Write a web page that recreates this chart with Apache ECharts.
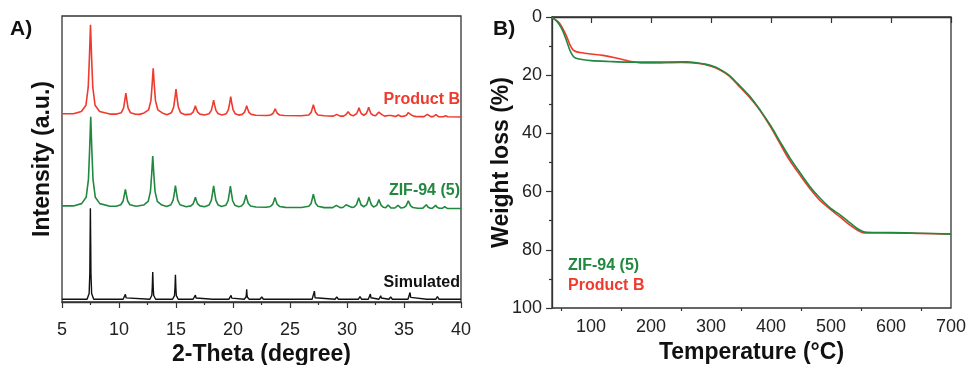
<!DOCTYPE html>
<html>
<head>
<meta charset="utf-8">
<script src="https://cdn.jsdelivr.net/npm/echarts@6/dist/echarts.min.js"></script>
<style>
html,body{margin:0;padding:0;background:#fff;}
#chart{width:968px;height:365px;}
</style>
</head>
<body>
<div id="chart"></div>
<script>
// ---- Panel A: XRD patterns (2-theta, intensity in stacked a.u.) ----
const xrdProductB = [
[5,65.8],[6,65.8],[6.7,66.6],[7.1,68.8],[7.3,75.1],[7.4,85.0],[7.5,96.9],[7.6,85.0],[7.7,75.1],[7.9,68.8],[8.3,66.6],[9.2,65.7],
[9.8,65.7],[10.2,66.2],[10.4,67.8],[10.52,70.8],[10.6,73.0],[10.68,70.8],[10.8,67.8],[11.0,66.2],[11.4,65.7],
[11.8,65.6],[12.2,66.1],[12.6,67.2],[12.8,70.4],[12.9,75.6],[13.0,81.7],[13.1,75.6],[13.2,70.4],[13.4,67.2],[13.8,66.1],[14.2,65.5],
[14.6,66.2],[14.8,68.2],[14.92,71.7],[15.0,74.4],[15.08,71.7],[15.2,68.2],[15.4,66.2],[15.8,65.5],
[16.3,65.7],[16.5,66.4],[16.62,67.6],[16.7,68.6],[16.78,67.6],[16.9,66.4],[17.1,65.7],[17.5,65.4],
[17.9,65.8],[18.1,67.0],[18.22,69.0],[18.3,70.6],[18.38,69.0],[18.5,67.0],[18.7,65.8],[19.05,65.4],
[19.4,65.8],[19.6,67.3],[19.72,69.8],[19.8,71.8],[19.88,69.8],[20.0,67.3],[20.2,65.8],[20.5,65.35],
[20.8,65.6],[21.0,66.3],[21.12,67.6],[21.2,68.6],[21.28,67.6],[21.4,66.3],[21.6,65.6],[22.0,65.3],
[23.0,65.2],[23.3,65.4],[23.5,65.9],[23.62,66.8],[23.7,67.5],[23.78,66.8],[23.9,65.9],[24.1,65.4],[24.5,65.2],
[26.0,65.1],[26.65,65.4],[26.85,66.3],[26.97,67.8],[27.05,69.0],[27.13,67.8],[27.25,66.3],[27.45,65.4],[28.0,65.1],
[28.8,65.0],[29.1,65.6],[29.4,65.0],
[29.7,65.0],[29.9,65.5],[30.02,66.0],[30.1,66.5],[30.18,66.0],[30.3,65.5],[30.55,65.1],
[30.65,65.2],[30.85,65.9],[30.97,67.0],[31.05,67.9],[31.13,67.0],[31.25,65.9],[31.47,65.3],
[31.7,65.9],[31.82,67.1],[31.9,68.1],[31.98,67.1],[32.1,65.9],[32.3,65.3],
[32.5,65.1],[32.67,65.5],[32.79,66.4],[32.87,67.0],[32.95,66.4],[33.07,65.5],[33.3,65.0],
[33.45,64.9],[33.62,65.2],[33.75,65.7],[33.88,65.2],[34.05,64.9],
[34.25,64.85],[34.5,65.4],[34.75,64.85],
[35.05,65.0],[35.24,65.4],[35.36,66.2],[35.44,66.8],[35.52,66.2],[35.64,65.4],[35.85,65.0],[36.2,64.8],
[36.75,64.8],[36.92,65.1],[37.05,65.6],[37.18,65.1],[37.35,64.8],
[37.55,64.8],[37.8,65.5],[38.05,64.75],
[38.45,64.75],[38.65,65.1],[38.85,64.75],[40,64.7]
];
const xrdZif94 = [
[5,33.6],[6,33.6],[6.72,34.4],[7.12,36.6],[7.32,42.9],[7.42,52.9],[7.52,64.8],[7.62,52.9],[7.72,42.9],[7.92,36.6],[8.32,34.4],[9.2,33.5],
[9.76,33.5],[10.16,34.0],[10.36,35.3],[10.48,37.7],[10.56,39.4],[10.64,37.7],[10.76,35.3],[10.96,34.0],[11.5,33.5],
[12.16,33.9],[12.56,35.2],[12.76,38.7],[12.86,44.3],[12.96,51.0],[13.06,44.3],[13.16,38.7],[13.36,35.2],[13.76,33.9],[14.2,33.4],
[14.55,34.0],[14.75,35.6],[14.87,38.5],[14.95,40.7],[15.03,38.5],[15.15,35.6],[15.35,34.0],[15.9,33.3],
[16.3,33.6],[16.5,34.3],[16.62,35.6],[16.7,36.6],[16.78,35.6],[16.9,34.3],[17.1,33.6],[17.5,33.3],
[17.9,33.9],[18.1,35.5],[18.22,38.4],[18.3,40.6],[18.38,38.4],[18.5,35.5],[18.7,33.9],[19.0,33.4],
[19.37,33.8],[19.57,35.4],[19.69,38.3],[19.77,40.5],[19.85,38.3],[19.97,35.4],[20.17,33.8],[20.5,33.3],
[20.74,33.55],[20.94,34.45],[21.06,36.1],[21.14,37.4],[21.22,36.1],[21.34,34.45],[21.54,33.55],[22.0,33.2],
[22.9,33.15],[23.28,33.4],[23.48,34.1],[23.6,35.5],[23.68,36.5],[23.76,35.5],[23.88,34.1],[24.08,33.4],[24.6,33.1],
[26.0,33.05],[26.65,33.45],[26.85,34.45],[26.97,36.35],[27.05,37.7],[27.13,36.35],[27.25,34.45],[27.45,33.45],[28.0,33.0],
[28.75,33.0],[28.92,33.25],[29.07,33.8],[29.22,33.25],[29.4,33.0],
[29.65,33.05],[29.82,33.45],[29.92,34.0],[30.0,34.5],[30.08,34.0],[30.2,33.45],[30.45,33.05],
[30.63,33.25],[30.83,34.0],[30.95,35.45],[31.03,36.5],[31.11,35.45],[31.23,34.0],[31.47,33.3],
[31.73,34.05],[31.85,35.55],[31.93,36.7],[32.01,35.55],[32.13,34.05],[32.33,33.2],
[32.6,33.8],[32.72,34.9],[32.8,35.8],[32.88,34.9],[33.0,33.8],[33.2,33.1],
[33.4,32.95],[33.5,33.3],[33.6,33.9],[33.7,33.3],[33.85,32.9],
[34.2,32.86],[34.35,33.2],[34.47,33.8],[34.6,33.2],[34.75,32.86],
[34.98,33.05],[35.18,33.6],[35.3,34.65],[35.38,35.4],[35.46,34.65],[35.58,33.6],[35.78,33.05],[36.2,32.8],
[36.65,32.8],[36.82,33.2],[36.96,34.0],[37.1,33.2],[37.3,32.8],
[37.5,32.8],[37.65,33.1],[37.78,33.8],[37.91,33.1],[38.1,32.78],
[38.35,32.76],[38.57,33.3],[38.8,32.75],[40,32.7]
];
const xrdSimulated = [
[5,0.95],[7.2,0.95],[7.38,3.0],[7.44,10.0],[7.46,20.0],[7.49,32.8],[7.52,20.0],[7.54,10.0],[7.6,3.0],[7.78,0.95],
[10.36,0.95],[10.5,1.45],[10.56,2.7],[10.62,1.45],[10.76,0.95],
[12.71,0.95],[12.88,2.35],[12.92,5.25],[12.96,10.5],[13.0,5.25],[13.04,2.35],[13.21,0.95],
[14.7,0.95],[14.87,2.25],[14.91,4.8],[14.95,9.5],[14.99,4.8],[15.03,2.25],[15.2,0.95],
[16.5,0.95],[16.64,1.4],[16.7,2.4],[16.76,1.4],[16.9,0.95],
[18.2,0.95],[18.35,1.4],[18.5,0.95],
[19.63,0.95],[19.77,1.35],[19.83,2.3],[19.89,1.35],[20.03,0.95],
[20.98,0.95],[21.13,1.65],[21.17,2.5],[21.2,4.4],[21.23,2.5],[21.27,1.65],[21.42,0.95],
[22.37,0.95],[22.52,1.75],[22.67,0.95],
[23.58,0.95],[23.72,1.3],[23.86,0.95],
[26.94,0.95],[27.08,1.5],[27.14,3.8],[27.2,1.5],[27.34,0.95],
[28.95,0.95],[29.1,1.75],[29.25,0.95],
[29.97,0.95],[30.1,1.4],[30.23,0.95],
[30.99,0.95],[31.14,1.9],[31.29,0.95],
[31.87,0.95],[32.0,1.5],[32.05,2.8],[32.1,1.5],[32.23,0.95],
[32.8,0.95],[32.91,1.4],[32.96,2.2],[33.01,1.4],[33.12,0.95],
[33.68,0.95],[33.83,1.75],[33.98,0.95],
[34.5,0.95],[34.65,1.5],[34.8,0.95],
[35.35,0.95],[35.47,1.6],[35.53,3.3],[35.59,1.6],[35.71,0.95],
[37.0,0.95],[37.14,1.6],[37.28,0.95],
[37.78,0.95],[37.93,1.9],[38.08,0.95],
[39.33,0.95],[39.48,1.4],[39.63,0.95],[40,0.95]
];

// ---- Panel B: TGA curves ----
const tgaTempZif = [35,40,45,50,55,60,65,70,75,85,100,130,160,200,260,288,300,315,330,345,365,382,399,415,432,449,465,482,499,515,529,543,552,560,600,650,700];
const tgaLossZif = [0.3,0.9,2.0,3.6,5.8,8.6,11.5,13.4,14.2,14.6,15.0,15.3,15.5,15.5,15.4,16.1,16.7,18.0,20.0,23.0,27.3,32.0,37.2,42.8,48.6,53.7,58.3,62.3,65.7,68.0,70.3,72.6,73.6,74.0,74.1,74.3,74.6];
const tgaTempProdB = [35,40,45,50,55,60,65,70,75,85,100,120,140,160,180,200,250,280,300,315,330,345,365,380,400,415,430,450,465,480,500,515,530,545,553,560,600,650,700];
const tgaLossProdB = [0.3,0.8,1.6,2.9,4.8,7.0,9.6,11.3,11.9,12.3,12.7,13.2,14.0,15.0,15.7,15.8,15.6,16.0,16.9,18.2,20.2,23.4,27.8,31.6,38.0,43.5,48.9,54.8,59.0,62.7,66.3,68.7,71.3,73.4,74.1,74.2,74.2,74.4,74.6];
const tgaMajorTicks = [100,200,300,400,500,600,700];
const tgaMinorTicks = [50,150,250,350,450,550,650];

const RED = '#ef3a2d';
const GREEN = '#21883f';
const INK = '#222';
const FONT = "'Liberation Sans', Arial, Helvetica, sans-serif";

const zip = (a, b) => a.map((v, i) => [v, b[i]]);

const chart = echarts.init(document.getElementById('chart'), null, {renderer: 'canvas'});

const frame = {show: true, lineStyle: {color: '#333', width: 1.3}};
const tickLbl = {fontSize: 18, color: INK, fontFamily: FONT};
const nameStyle = {fontSize: 23, fontWeight: 'bold', color: '#111', fontFamily: FONT};

const option = {
  animation: false,
  backgroundColor: '#fff',
  grid: [
    {left: 62, top: 16, width: 399, height: 286, show: true, borderColor: '#333', borderWidth: 1.3, backgroundColor: 'transparent', containLabel: false, outerBoundsMode: 'none'},
    {left: 552, top: 17, width: 399, height: 291, show: true, borderColor: '#333', borderWidth: 1.3, backgroundColor: 'transparent', containLabel: false, outerBoundsMode: 'none'}
  ],
  xAxis: [
    {
      gridIndex: 0, type: 'value', min: 5, max: 40, interval: 5, offset: 7,
      axisLine: frame,
      axisTick: {show: true, inside: false, length: 6, lineStyle: {color: '#333', width: 1.2}},
      minorTick: {show: true, splitNumber: 2, length: 3, lineStyle: {color: '#333', width: 1.2}},
      axisLabel: Object.assign({margin: 12}, tickLbl),
      splitLine: {show: false},
      name: '2-Theta (degree)', nameLocation: 'middle', nameGap: 34, nameMoveOverlap: false, nameTextStyle: nameStyle
    },
    {
      gridIndex: 1, type: 'value', min: 35, max: 700,
      axisLine: frame,
      axisTick: {show: true, inside: false, length: 6, customValues: tgaMajorTicks, lineStyle: {color: '#333', width: 1.2}},
      axisLabel: Object.assign({margin: 10, customValues: tgaMajorTicks}, tickLbl),
      splitLine: {show: false},
      name: 'Temperature (°C)', nameLocation: 'middle', nameGap: 33, nameMoveOverlap: false, nameTextStyle: nameStyle
    },
    {
      gridIndex: 1, type: 'value', min: 35, max: 700, position: 'bottom',
      axisLine: {show: false},
      axisTick: {show: true, inside: false, length: 3, customValues: tgaMinorTicks, lineStyle: {color: '#333', width: 1.2}},
      axisLabel: {show: false},
      splitLine: {show: false}
    }
  ],
  yAxis: [
    {
      gridIndex: 0, type: 'value', min: 0, max: 100,
      axisLine: {show: false}, axisTick: {show: false}, axisLabel: {show: false}, splitLine: {show: false},
      name: 'Intensity (a.u.)', nameLocation: 'middle', nameGap: 8, nameMoveOverlap: false, nameTextStyle: nameStyle
    },
    {
      gridIndex: 1, type: 'value', min: 0, max: 100, interval: 20, inverse: true,
      axisLine: frame,
      axisTick: {show: true, inside: false, length: 6, lineStyle: {color: '#333', width: 1.2}},
      minorTick: {show: true, splitNumber: 2, length: 3, lineStyle: {color: '#333', width: 1.2}},
      axisLabel: Object.assign({margin: 10}, tickLbl),
      splitLine: {show: false},
      name: 'Weight loss (%)', nameLocation: 'middle', nameGap: 39, nameMoveOverlap: false, nameTextStyle: nameStyle
    }
  ],
  series: [
    {name: 'Product B', type: 'line', xAxisIndex: 0, yAxisIndex: 0, data: xrdProductB, showSymbol: false, symbol: 'none',
     lineStyle: {color: RED, width: 1.6}, z: 3},
    {name: 'ZIF-94 (5)', type: 'line', xAxisIndex: 0, yAxisIndex: 0, data: xrdZif94, showSymbol: false, symbol: 'none',
     lineStyle: {color: GREEN, width: 1.6}, z: 3},
    {name: 'Simulated', type: 'line', xAxisIndex: 0, yAxisIndex: 0, data: xrdSimulated, showSymbol: false, symbol: 'none',
     lineStyle: {color: '#111', width: 1.4}, z: 3},
    {name: 'Product B TGA', type: 'line', xAxisIndex: 1, yAxisIndex: 1, data: zip(tgaTempProdB, tgaLossProdB), showSymbol: false, symbol: 'none',
     smooth: 0.3, lineStyle: {color: RED, width: 1.6}, z: 3},
    {name: 'ZIF-94 (5) TGA', type: 'line', xAxisIndex: 1, yAxisIndex: 1, data: zip(tgaTempZif, tgaLossZif), showSymbol: false, symbol: 'none',
     smooth: 0.3, lineStyle: {color: GREEN, width: 1.6}, z: 4}
  ],
  graphic: [
    {type: 'text', z: 10, style: {x: 10, y: 29, text: 'A)', fill: '#111', font: 'bold 21px ' + FONT, textAlign: 'left', textVerticalAlign: 'middle', align: 'left', verticalAlign: 'middle'}},
    {type: 'text', z: 10, style: {x: 493, y: 29, text: 'B)', fill: '#111', font: 'bold 21px ' + FONT, textAlign: 'left', textVerticalAlign: 'middle', align: 'left', verticalAlign: 'middle'}},
    {type: 'text', z: 10, style: {x: 460, y: 100, text: 'Product B', fill: RED, font: 'bold 16px ' + FONT, textAlign: 'right', textVerticalAlign: 'middle', align: 'right', verticalAlign: 'middle'}},
    {type: 'text', z: 10, style: {x: 460, y: 191, text: 'ZIF-94 (5)', fill: GREEN, font: 'bold 16px ' + FONT, textAlign: 'right', textVerticalAlign: 'middle', align: 'right', verticalAlign: 'middle'}},
    {type: 'text', z: 10, style: {x: 460, y: 283, text: 'Simulated', fill: '#111', font: 'bold 16px ' + FONT, textAlign: 'right', textVerticalAlign: 'middle', align: 'right', verticalAlign: 'middle'}},
    {type: 'text', z: 10, style: {x: 568, y: 266, text: 'ZIF-94 (5)', fill: GREEN, font: 'bold 16px ' + FONT, textAlign: 'left', textVerticalAlign: 'middle', align: 'left', verticalAlign: 'middle'}},
    {type: 'text', z: 10, style: {x: 568, y: 286, text: 'Product B', fill: RED, font: 'bold 16px ' + FONT, textAlign: 'left', textVerticalAlign: 'middle', align: 'left', verticalAlign: 'middle'}}
  ]
};
chart.setOption(option);
</script>
</body>
</html>
